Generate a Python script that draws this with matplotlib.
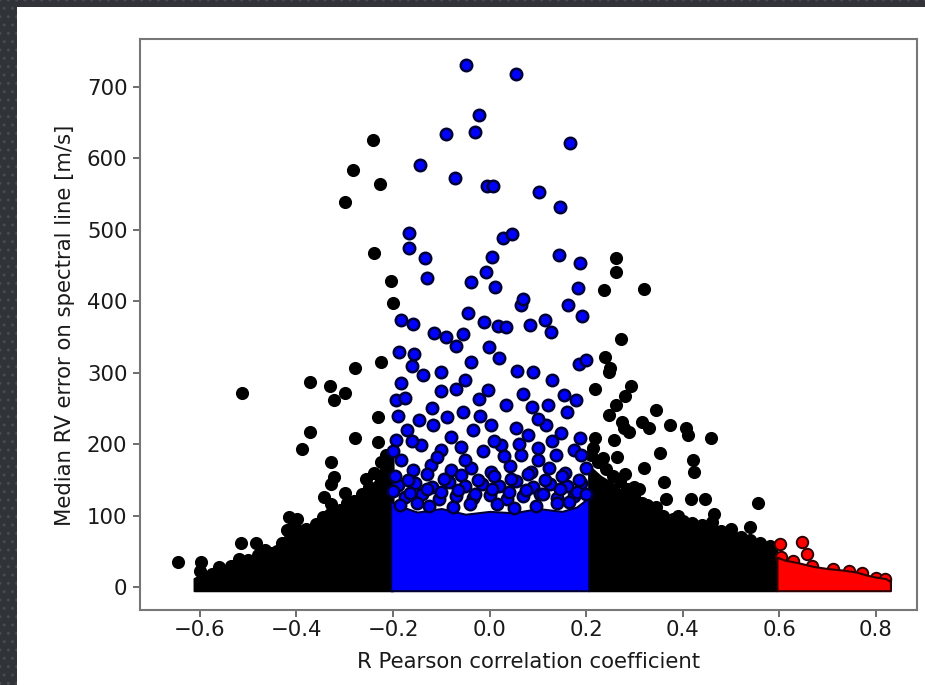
import matplotlib
matplotlib.use('Agg')
import matplotlib.pyplot as plt
from matplotlib.patches import Rectangle

# ---------------- data ----------------
xticks = [-0.6, -0.4, -0.2, 0.0, 0.2, 0.4, 0.6, 0.8]
yticks = [0, 100, 200, 300, 400, 500, 600, 700]
xlabel = "R Pearson correlation coefficient"
ylabel = "Median RV error on spectral line [m/s]"

# dense clouds: upper envelope of the visible mass
left_env_x = [-0.612, -0.59, -0.55, -0.515, -0.46, -0.435, -0.42, -0.40, -0.38, -0.35,
              -0.31, -0.28, -0.24, -0.215, -0.20]
left_env_top = [12, 20, 24, 36, 46, 58, 76, 74, 78, 88, 105, 115, 145, 178, 190]

blue_env_x = [-0.205, -0.18, -0.15, -0.10, -0.05, 0.0, 0.05, 0.10, 0.15, 0.18, 0.205]
blue_env_top = [120, 112, 105, 110, 102, 106, 104, 110, 106, 112, 125]

right_env_x = [0.205, 0.23, 0.26, 0.29, 0.32, 0.35, 0.40, 0.45, 0.50, 0.55, 0.595]
right_env_top = [170, 155, 143, 125, 105, 96, 88, 80, 70, 60, 52]

red_env_x = [0.595, 0.61, 0.64, 0.67, 0.70, 0.73, 0.76, 0.78, 0.80, 0.82, 0.83]
red_env_top = [42, 38, 34, 29, 26, 24, 21, 17, 14, 12, 8]

# individual points
black_x = [-0.241, -0.283, -0.227, -0.299, -0.239, -0.205, -0.201, -0.279, -0.224, -0.371,
           -0.331, -0.299, -0.323, -0.513, -0.232, -0.371, -0.389, -0.279, -0.232, -0.329,
           -0.323, -0.329, -0.343, -0.329, -0.415, -0.398, -0.515, -0.484, -0.646, -0.598,
           -0.594, -0.556,
           0.261, 0.261, 0.236, 0.319, 0.273, 0.238, 0.250, 0.247, 0.219, 0.292,
           0.281, 0.261, 0.345, 0.247, 0.274, 0.278, 0.288, 0.316, 0.329, 0.373,
           0.407, 0.410, 0.459, 0.219, 0.257, 0.352, 0.264, 0.421, 0.424, 0.281,
           0.320, 0.362, 0.366, 0.416, 0.447, 0.556, 0.464, 0.460, 0.540, 0.412,
           0.292, 0.309, 0.326,
           # points along the edge of the left cloud
           -0.600, -0.575, -0.560, -0.535, -0.520, -0.500, -0.480, -0.465, -0.450, -0.430,
           -0.420, -0.410, -0.395, -0.380, -0.360, -0.345, -0.330, -0.310, -0.295, -0.280,
           -0.265, -0.250, -0.240, -0.225, -0.215, -0.440, -0.405, -0.300, -0.255, -0.215,
           # points along the edge of the right cloud
           0.210, 0.225, 0.240, 0.255, 0.270, 0.285, 0.300, 0.315, 0.330, 0.345,
           0.360, 0.380, 0.400, 0.420, 0.440, 0.460, 0.480, 0.500, 0.520, 0.540,
           0.560, 0.580, 0.215, 0.235, 0.300, 0.345, 0.390, 0.500]
black_y = [626, 584, 564, 539, 467, 428, 398, 307, 315, 287,
           282, 272, 262, 271, 238, 217, 193, 208, 203, 175,
           154, 144, 126, 117, 98, 96, 62, 62, 35, 35,
           13, 20,
           460, 441, 416, 417, 347, 322, 307, 301, 277, 281,
           267, 255, 248, 241, 231, 222, 217, 231, 222, 227,
           222, 213, 208, 208, 206, 187, 182, 178, 161, 159,
           167, 147, 124, 124, 123, 118, 103, 91, 84, 87,
           138, 138, 115,
           22, 18, 28, 30, 40, 38, 45, 52, 48, 62,
           80, 75, 78, 82, 88, 98, 102, 108, 118, 120,
           130, 140, 160, 175, 185, 50, 90, 132, 152, 165,
           185, 175, 165, 155, 148, 138, 128, 118, 112, 105,
           100, 96, 92, 90, 87, 83, 78, 74, 70, 66,
           62, 58, 195, 180, 140, 112, 100, 82]

blue_x = [-0.048, 0.054, -0.021, -0.030, -0.091, 0.167, -0.145, -0.072, -0.006, 0.006,
          0.103, 0.145, -0.167, -0.167, -0.134, 0.028, 0.047, 0.004, 0.144, 0.188,
          -0.129, -0.008, -0.038, 0.012, 0.184,
          -0.184, -0.159, -0.188, -0.157, -0.116, -0.091, -0.070, -0.056, -0.045, -0.012,
          -0.002, 0.017, 0.033, 0.064, 0.070, 0.083, 0.114, 0.128, 0.163, 0.192,
          0.186, 0.199, 0.056, 0.089, -0.039, -0.101, -0.137, -0.184, -0.194, -0.176,
          -0.070, -0.023, -0.004, 0.033, 0.087, 0.120, 0.153, 0.178,
          -0.089, -0.056, -0.147, -0.118, -0.172, -0.194, -0.035, 0.002, 0.054, 0.079,
          0.116, 0.147, 0.188,
          -0.143, -0.101, -0.060, -0.014, 0.023, 0.064, 0.101, 0.137, 0.174,
          -0.184, -0.159, -0.122, -0.081, -0.039, 0.002, 0.043, 0.085, 0.122, 0.157, 0.199,
          -0.190, -0.155, -0.120, -0.085, -0.050, -0.015, 0.020, 0.055, 0.090, 0.125, 0.160, 0.190,
          -0.175, -0.140, -0.105, -0.070, -0.035, 0.000, 0.035, 0.070, 0.105, 0.140, 0.175,
          -0.195, -0.170, -0.130, -0.095, -0.060, -0.025, 0.010, 0.045, 0.080, 0.115, 0.150, 0.185,
          -0.200, -0.165, -0.130, -0.100, -0.065, -0.030, 0.005, 0.040, 0.075, 0.110, 0.145, 0.180, 0.200,
          -0.200, -0.110, -0.050, 0.030, 0.100, 0.190, -0.160, -0.080, 0.010, 0.060, 0.130,
          -0.120, -0.020, 0.100, 0.160, -0.190, 0.070, -0.100, 0.130, -0.160, 0.020, -0.050,
          -0.185, -0.150, -0.075, 0.015, 0.095, 0.165, -0.125, -0.040, 0.050, 0.140]
blue_y = [730, 718, 660, 637, 634, 622, 590, 572, 562, 562,
          553, 532, 495, 474, 460, 488, 494, 462, 465, 453,
          433, 441, 427, 420, 419,
          374, 368, 329, 326, 356, 350, 337, 354, 384, 371,
          336, 365, 364, 395, 403, 367, 374, 357, 395, 379,
          312, 318, 302, 301, 315, 301, 297, 286, 262, 265,
          277, 263, 276, 255, 252, 255, 269, 262,
          238, 245, 234, 227, 220, 206, 220, 227, 223, 213,
          227, 216, 209,
          199, 192, 196, 190, 199, 185, 195, 185, 192,
          178, 164, 171, 164, 167, 161, 169, 161, 167, 160, 167,
          143, 146, 140, 147, 141, 145, 142, 148, 140, 144, 141, 146,
          126, 130, 124, 128, 125, 129, 123, 127, 131, 125, 128,
          155, 150, 158, 152, 157, 150, 156, 151, 158, 150, 155, 150,
          135, 132, 138, 133, 136, 131, 137, 133, 136, 131, 137, 133, 130,
          190, 182, 178, 183, 178, 185, 205, 210, 205, 200, 205,
          250, 240, 235, 245, 240, 270, 275, 290, 310, 320, 290,
          115, 118, 112, 116, 113, 119, 114, 117, 111, 118]

red_x = [0.602, 0.647, 0.657,
         0.603, 0.628, 0.668, 0.712, 0.745, 0.772, 0.800, 0.818]
red_y = [61, 63, 47,
         42, 36, 30, 25, 22, 20, 13, 11]

# ---------------- figure ----------------
W, H = 925, 685
fig = plt.figure(figsize=(W / 100, H / 100), dpi=100)
fig.patch.set_facecolor('#303338')
fig.patches.append(Rectangle((0, 0), 1, 1, transform=fig.transFigure, facecolor='none',
                             edgecolor='#474b51', hatch='..', linewidth=0, zorder=-20))
fig.patches.append(Rectangle((17 / W, 0), 1 - 17 / W, 678 / H, transform=fig.transFigure,
                             facecolor='white', edgecolor='none', zorder=-10))

ax = fig.add_axes([140 / W, 75 / H, 777 / W, 571 / H])
ax.set_zorder(5)
ax.set_facecolor('white')

base = -5
ms = 68
ax.fill_between(left_env_x, [base] * len(left_env_x), left_env_top,
                facecolor='black', edgecolor='black', linewidth=1.5, zorder=2)
ax.fill_between(right_env_x, [base] * len(right_env_x), right_env_top,
                facecolor='black', edgecolor='black', linewidth=1.5, zorder=2)
ax.scatter(black_x, black_y, s=ms, c='black', edgecolors='black', linewidths=1.2, zorder=3)

ax.fill_between(blue_env_x, [base] * len(blue_env_x), blue_env_top,
                facecolor='#0000ff', edgecolor='#000033', linewidth=1.5, zorder=4)
ax.scatter(blue_x, blue_y, s=ms, c='#0000ff', edgecolors='#000038', linewidths=1.8, zorder=5)

ax.scatter(red_x, red_y, s=ms, c='#ff0000', edgecolors='#300000', linewidths=1.4, zorder=6)
ax.fill_between(red_env_x, [base] * len(red_env_x), red_env_top,
                facecolor='#ff0000', edgecolor='#300000', linewidth=1.5, zorder=7)

ax.set_xlim(-0.724, 0.885)
ax.set_ylim(-32, 767)
ax.set_xticks(xticks)
ax.set_yticks(yticks)
ax.set_xticklabels([f"{v:.1f}".replace('-', '\u2212') for v in xticks])
ax.set_yticklabels([str(v) for v in yticks])

for sp in ax.spines.values():
    sp.set_color('#777777')
    sp.set_linewidth(1.5)
ax.tick_params(axis='both', length=5, width=1.2, color='#555555', labelsize=15.3,
               labelcolor='#1a1a1a')
ax.tick_params(axis='x', pad=2)
ax.tick_params(axis='y', pad=4)

fig.text(528.5 / W, 1 - 662 / H, xlabel, ha='center', va='center', fontsize=15.3, color='#1a1a1a')
fig.text(65 / W, 1 - 325 / H, ylabel, ha='center', va='center', rotation=90,
         fontsize=15.3, color='#1a1a1a')

fig.savefig('out.png', dpi=100, facecolor=fig.get_facecolor())
